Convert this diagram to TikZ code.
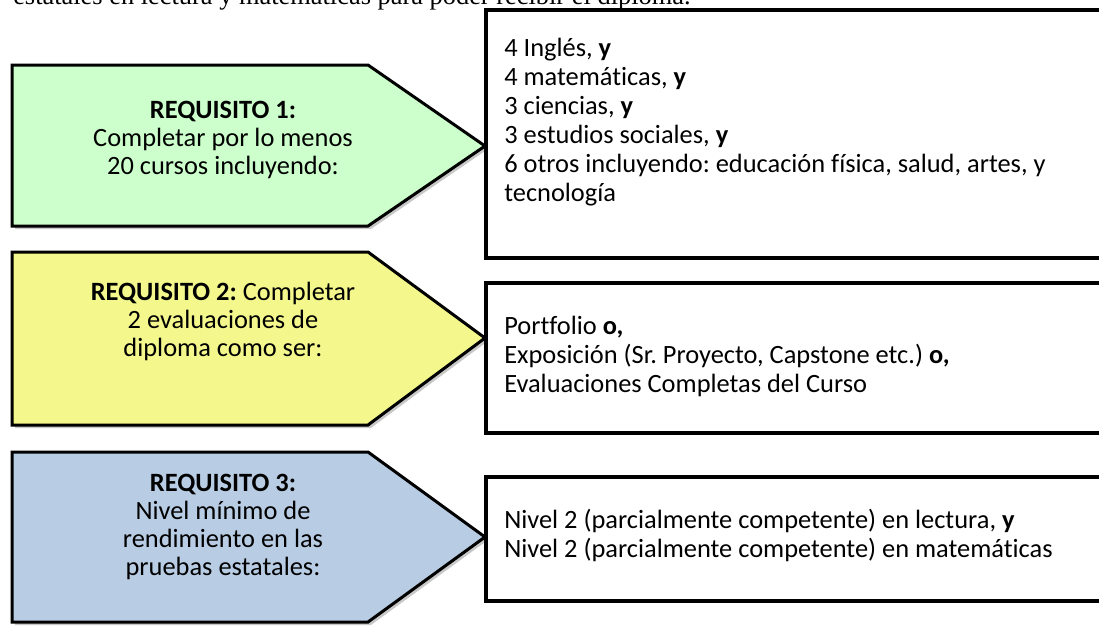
\documentclass[tikz,border=0pt]{standalone}
\usepackage{fontspec}
\setmainfont{Carlito}[Ligatures=NoCommon]
\newfontfamily\bodyserif{Liberation Serif}
\usepackage{xcolor}
\frenchspacing
\definecolor{reqgreen}{HTML}{CCFFCC}
\definecolor{reqyellow}{HTML}{F3F78C}
\definecolor{reqblue}{HTML}{B8CCE4}
\definecolor{reqgray}{HTML}{C8C8C8}
\tikzset{
  reqshape/.style={
    draw=black,
    line width=2.25pt,
    line join=miter
  },
  reqshadow/.style={fill=reqgray},
  reqtext/.style={
    align=center,
    inner sep=0pt,
    font=\fontsize{19.8pt}{21pt}\selectfont
  },
  listbox/.style={draw=black, line width=2.4pt, fill=white},
  listtext/.style={reqtext, align=left, anchor=west, font=\fontsize{19.8pt}{21.75pt}\selectfont},
  introtext/.style={anchor=base west, inner sep=0pt, font=\bodyserif\fontsize{19.8pt}{24pt}\selectfont}
}

\begin{document}
\begin{tikzpicture}[x=0.75pt, y=-0.75pt]
\useasboundingbox (0,0) rectangle (1099,625);
\clip (0,0) rectangle (1099,625);
% body line cut by the top edge
\node[introtext] (intro) at (13,4) {estatales en lectura y matemáticas para poder recibir el diploma.};
% requirement arrows
\fill[reqshadow] (15,68) -- (371,68) -- (488,149) -- (371,229) -- (15,229) -- cycle;
\draw[reqshape, fill=reqgreen] (12,65) -- (368,65) -- (485,146) -- (368,226) -- (12,226) -- cycle;
\fill[reqshadow] (15,255) -- (371,255) -- (488,341) -- (371,428) -- (15,428) -- cycle;
\draw[reqshape, fill=reqyellow] (12,252) -- (368,252) -- (485,338) -- (368,425) -- (12,425) -- cycle;
\fill[reqshadow] (15,455) -- (371,455) -- (488,540) -- (371,625) -- (15,625) -- cycle;
\draw[reqshape, fill=reqblue] (12,452) -- (368,452) -- (485,537) -- (368,622) -- (12,622) -- cycle;
\node[reqtext] (req1) at (223,140) {\textbf{REQUISITO 1:}\\Completar por lo menos\\20 cursos incluyendo:};
\node[reqtext] (req2) at (223,321) {\textbf{REQUISITO 2:} Completar\\2 evaluaciones de\\diploma como ser:};
\node[reqtext] (req3) at (223,527) {\textbf{REQUISITO 3:}\\Nivel mínimo de\\rendimiento en las\\pruebas estatales:};
% detail boxes
\draw[listbox] (486,10) rectangle (1110,258);
\draw[listbox] (486,283) rectangle (1110,433);
\draw[listbox] (486,477) rectangle (1110,601);
\node[listtext] (list1) at (504,122) {4 Inglés, \textbf{y}\\4 matemáticas, \textbf{y}\\3 ciencias, \textbf{y}\\3 estudios sociales, \textbf{y}\\6 otros incluyendo: educación física, salud, artes, y\\tecnología};
\node[listtext] (list2) at (504,356) {Portfolio \textbf{o,}\\Exposición (Sr. Proyecto, Capstone etc.) \textbf{o,}\\Evaluaciones Completas del Curso};
\node[listtext] (list3) at (504,535) {Nivel 2 (parcialmente competente) en lectura, \textbf{y}\\Nivel 2 (parcialmente competente) en matemáticas};
\end{tikzpicture}
\end{document}
